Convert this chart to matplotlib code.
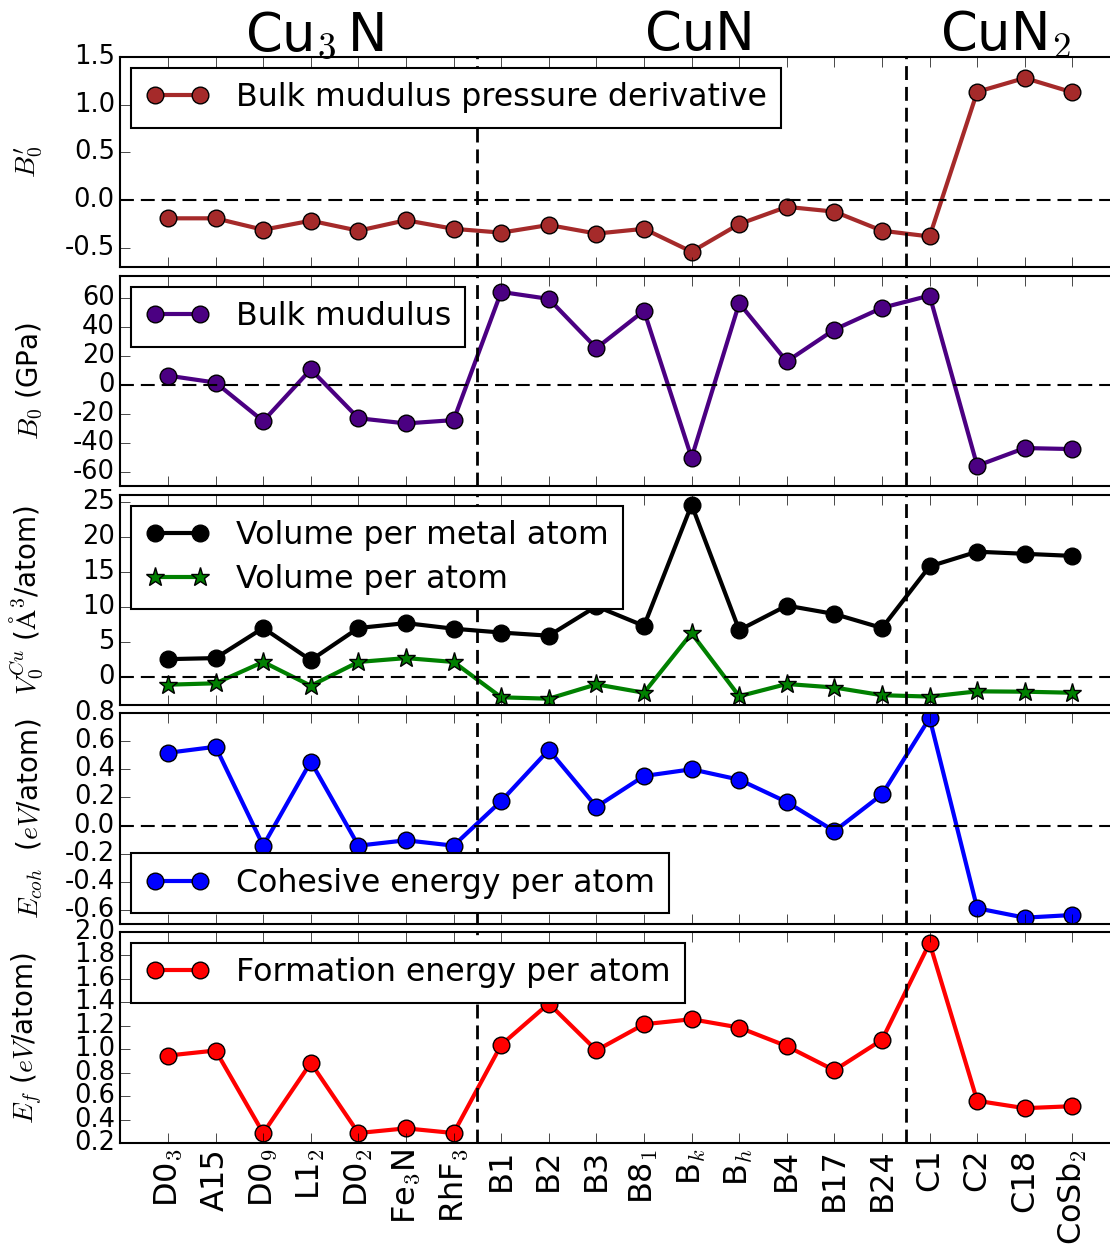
import matplotlib
matplotlib.use("Agg")
import matplotlib.pyplot as plt

plt.style.use("classic")
plt.rcParams["font.family"] = ["DejaVu Sans"]
plt.rcParams["mathtext.fontset"] = "cm"
plt.rcParams["lines.scale_dashes"] = False
plt.rcParams["figure.facecolor"] = "white"
plt.rcParams["savefig.facecolor"] = "white"
plt.rcParams["axes.linewidth"] = 1.5
plt.rcParams["xtick.major.size"] = 7
plt.rcParams["ytick.major.size"] = 7
plt.rcParams["xtick.labelsize"] = 23
plt.rcParams["ytick.labelsize"] = 18.5

# structure prototypes, grouped by stoichiometry
phases = [r"D0$_3$", "A15", r"D0$_9$", r"L1$_2$", r"D0$_2$", r"Fe$_3$N", r"RhF$_3$",
          "B1", "B2", "B3", r"B8$_1$", r"B$_k$", r"B$_h$", "B4", "B17", "B24",
          "C1", "C2", "C18", r"CoSb$_2$"]
groups = [r"Cu$_3\,$N", "CuN", r"CuN$_2$"]
group_pos = [3.07, 11.18, 17.6]
group_edges = [6.5, 15.5]

b0_prime = [-0.19, -0.19, -0.31, -0.215, -0.32, -0.21, -0.30,
            -0.34, -0.26, -0.35, -0.30, -0.54, -0.25, -0.07, -0.12, -0.32,
            -0.38, 1.135, 1.28, 1.13]
b0 = [6.2, 1.4, -25.2, 10.5, -23.2, -26.8, -24.5,
      64.0, 59.2, 25.2, 51.0, -50.5, 56.2, 16.0, 38.0, 53.0,
      61.5, -56.0, -43.8, -44.5]
vol_metal = [2.55, 2.7, 7.0, 2.4, 7.0, 7.7, 6.9,
             6.35, 5.9, 10.1, 7.3, 24.6, 6.7, 10.2, 9.0, 7.0,
             15.8, 17.9, 17.6, 17.3]
vol_atom = [-1.1, -0.9, 2.15, -1.25, 2.15, 2.7, 2.15,
            -2.9, -3.1, -1.05, -2.25, 6.25, -2.75, -1.0, -1.5, -2.6,
            -2.8, -2.05, -2.1, -2.25]
e_coh = [0.517, 0.56, -0.143, 0.455, -0.143, -0.105, -0.143,
         0.174, 0.538, 0.133, 0.352, 0.40, 0.326, 0.167, -0.04, 0.221,
         0.764, -0.588, -0.655, -0.636]
e_form = [0.946, 0.989, 0.285, 0.883, 0.285, 0.325, 0.285,
          1.037, 1.39, 0.99, 1.213, 1.256, 1.185, 1.026, 0.82, 1.08,
          1.906, 0.560, 0.497, 0.514]

x = list(range(len(phases)))

W, H = 1110.0, 1257.0
fig = plt.figure(figsize=(W / 100, H / 100), dpi=100)

# panel rows in pixels (top, bottom)
rows = [(57, 267), (276, 486), (495, 705), (713, 924), (932, 1143)]
x0, x1 = 120.4, 1120.0
axes = [fig.add_axes([x0 / W, 1 - b / H, (x1 - x0) / W, (b - t) / H]) for t, b in rows]

panels = [
    dict(series=[(b0_prime, "brown", "o", "Bulk mudulus pressure derivative")],
         ylim=(-0.7, 1.5), ticks=[-0.5, 0.0, 0.5, 1.0, 1.5], fmt="%.1f",
         ylabel=r"$B_0'$", loc="upper left"),
    dict(series=[(b0, "indigo", "o", "Bulk mudulus")],
         ylim=(-70, 75), ticks=[-60, -40, -20, 0, 20, 40, 60], fmt="%d",
         ylabel=r"$B_0$ (GPa)", loc="upper left"),
    dict(series=[(vol_metal, "k", "o", "Volume per metal atom"),
                 (vol_atom, "g", "*", "Volume per atom")],
         ylim=(-4, 26), ticks=[0, 5, 10, 15, 20, 25], fmt="%d",
         ylabel=r"$V_0^{Cu}$ ($\mathrm{\AA}^3$/atom)", loc="upper left"),
    dict(series=[(e_coh, "b", "o", "Cohesive energy per atom")],
         ylim=(-0.7, 0.8), ticks=[-0.6, -0.4, -0.2, 0.0, 0.2, 0.4, 0.6, 0.8], fmt="%.1f",
         ylabel=r"$E_{coh}$  ($eV$/atom)", loc="lower left"),
    dict(series=[(e_form, "r", "o", "Formation energy per atom")],
         ylim=(0.2, 2.0), ticks=[0.2, 0.4, 0.6, 0.8, 1.0, 1.2, 1.4, 1.6, 1.8, 2.0], fmt="%.1f",
         ylabel=r"$E_f$ ($eV$/atom)", loc="upper left"),
]

for ax, p in zip(axes, panels):
    for vals, color, marker, label in p["series"]:
        ms = 14 if marker == "*" else 12
        ax.plot(x, vals, color=color, marker=marker, lw=3, ms=ms,
                mec="k", mew=1, label=label)
    ax.axhline(0, color="k", lw=1.5, ls=(0, (10, 5)))
    for xe in group_edges:
        ax.axvline(xe, color="k", lw=2, ls=(0, (10, 5)))
    ax.set_xlim(-1, 20)
    ax.set_ylim(*p["ylim"])
    ax.set_yticks(p["ticks"])
    ax.set_yticklabels([p["fmt"] % t for t in p["ticks"]])
    ax.set_xticks(x)
    ax.set_ylabel(p["ylabel"], fontsize=20)
    ax.yaxis.set_label_coords(-0.075, 0.5)
    leg = ax.legend(loc=p["loc"], fontsize=22.8, numpoints=2, fancybox=False,
                    borderaxespad=0.35, labelspacing=0.4, borderpad=0.45,
                    handletextpad=0.85)
    leg.get_frame().set_linewidth(1.5)
    if ax is axes[-1]:
        ax.set_xticklabels(phases, rotation=90)
    else:
        ax.set_xticklabels([])

for name, gx in zip(groups, group_pos):
    axes[0].text(gx, 1.035, name, transform=axes[0].get_xaxis_transform(),
                 ha="center", va="baseline", fontsize=38)

fig.savefig("out.png", dpi=100)
